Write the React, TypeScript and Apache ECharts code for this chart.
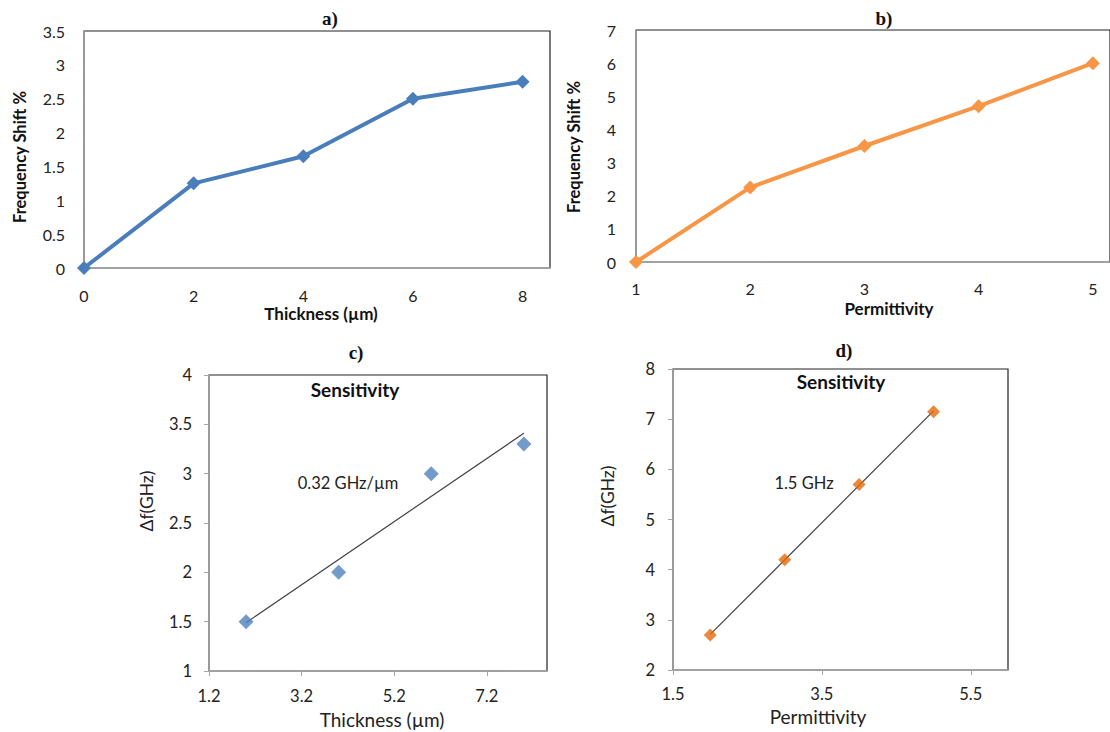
import React, { useEffect, useRef } from "react";
import * as echarts from "echarts";

// Panel a
const thicknessA = [0, 2, 4, 6, 8];
const shiftA = [0, 1.25, 1.65, 2.5, 2.75];
// Panel b
const permB = [1, 2, 3, 4, 5];
const shiftB = [0, 2.25, 3.5, 4.7, 6];
// Panel c
const thicknessC = [2, 4, 6, 8];
const dfC = [1.5, 2, 3, 3.3];
const trendCX = [2, 8];
const trendCY = [1.49, 3.41];
// Panel d
const permD = [2, 3, 4, 5];
const dfD = [2.7, 4.2, 5.7, 7.15];
const trendDX = [2, 5];
const trendDY = [2.71, 7.165];
// Tick labels
const xTicksA = [0, 2, 4, 6, 8];
const xTicksB = [1, 2, 3, 4, 5];
const xTicksC = [1.2, 3.2, 5.2, 7.2];
const xTicksD = [1.5, 3.5, 5.5];

const FONT = "Lato, 'Open Sans', sans-serif";
const SERIF = "'Liberation Serif', 'DejaVu Serif', serif";

const zip = (xs: number[], ys: number[]) => xs.map((x, i) => [x, ys[i]]);

export default function App() {
  const ref = useRef<HTMLDivElement>(null);
  useEffect(() => {
    if (!ref.current) return;
    const chart = echarts.init(ref.current, null, { renderer: "svg" });
    const gridBase = { show: true, borderColor: "#222", borderWidth: 1.2, backgroundColor: "#fff" };
    const axisLineGray = { show: true, lineStyle: { color: "#a6a6a6", width: 1.5 } };
    const lblAB = { color: "#222", fontSize: 16, fontFamily: FONT };
    const lblCD = { color: "#222", fontSize: 16.5, fontFamily: FONT };
    const t = (x: number, y: number, text: string, font: string, rot = 0, fill = "#111") => ({
      type: "text", x, y, rotation: rot, z: 100,
      style: { text, font, fill, align: "center", verticalAlign: "middle" },
    });
    const option: any = {
      animation: false,
      backgroundColor: "#fff",
      grid: [
        { ...gridBase, left: 84, top: 31, width: 466, height: 237 },
        { ...gridBase, left: 636, top: 30, width: 474, height: 232 },
        { ...gridBase, left: 209, top: 375, width: 338, height: 296 },
        { ...gridBase, left: 673, top: 369, width: 335, height: 301 },
      ],
      xAxis: [
        {
          gridIndex: 0, type: "value", min: 0, max: 8.5,
          axisLine: axisLineGray, splitLine: { show: false },
          axisTick: { show: false },
          axisLabel: { ...lblAB, margin: 19, customValues: xTicksA },
        },
        {
          gridIndex: 1, type: "value", min: 1, max: 5.15,
          axisLine: axisLineGray, splitLine: { show: false },
          axisTick: { show: false },
          axisLabel: { ...lblAB, margin: 18, customValues: xTicksB },
        },
        {
          gridIndex: 2, type: "value", min: 1.2, max: 8.5,
          axisLine: axisLineGray, splitLine: { show: false },
          axisTick: { show: true, length: 5, lineStyle: { color: "#a6a6a6" }, customValues: xTicksC },
          axisLabel: { ...lblCD, margin: 16, customValues: xTicksC },
        },
        {
          gridIndex: 3, type: "value", min: 1.5, max: 6,
          axisLine: axisLineGray, splitLine: { show: false },
          axisTick: { show: true, length: 5, lineStyle: { color: "#a6a6a6" }, customValues: xTicksD },
          axisLabel: { ...lblCD, margin: 15, customValues: xTicksD },
        },
      ],
      yAxis: [
        {
          gridIndex: 0, type: "value", min: 0, max: 3.5, interval: 0.5,
          axisLine: axisLineGray, splitLine: { show: false }, axisTick: { show: false },
          axisLabel: { ...lblAB, margin: 19 },
        },
        {
          gridIndex: 1, type: "value", min: 0, max: 7, interval: 1,
          axisLine: axisLineGray, splitLine: { show: false }, axisTick: { show: false },
          axisLabel: { ...lblAB, margin: 20 },
        },
        {
          gridIndex: 2, type: "value", min: 1, max: 4, interval: 0.5,
          axisLine: axisLineGray, splitLine: { show: false },
          axisTick: { show: true, length: 5, lineStyle: { color: "#a6a6a6" } },
          axisLabel: { ...lblCD, margin: 17 },
        },
        {
          gridIndex: 3, type: "value", min: 2, max: 8, interval: 1,
          axisLine: axisLineGray, splitLine: { show: false },
          axisTick: { show: true, length: 5, lineStyle: { color: "#a6a6a6" } },
          axisLabel: { ...lblCD, margin: 18 },
        },
      ],
      series: [
        {
          type: "line", xAxisIndex: 0, yAxisIndex: 0, data: zip(thicknessA, shiftA),
          lineStyle: { color: "#4A7EBB", width: 4 }, itemStyle: { color: "#4A7EBB" },
          symbol: "diamond", symbolSize: 14, showSymbol: true,
        },
        {
          type: "line", xAxisIndex: 1, yAxisIndex: 1, data: zip(permB, shiftB),
          lineStyle: { color: "#F79646", width: 4 }, itemStyle: { color: "#F79646" },
          symbol: "diamond", symbolSize: 14, showSymbol: true,
        },
        {
          type: "line", xAxisIndex: 2, yAxisIndex: 2, data: zip(trendCX, trendCY),
          lineStyle: { color: "#404040", width: 1.2 }, symbol: "none", z: 2,
        },
        {
          type: "scatter", xAxisIndex: 2, yAxisIndex: 2, data: zip(thicknessC, dfC),
          itemStyle: { color: "#4F81BD" }, symbol: "diamond", symbolSize: 15, z: 3,
        },
        {
          type: "line", xAxisIndex: 3, yAxisIndex: 3, data: zip(trendDX, trendDY),
          lineStyle: { color: "#404040", width: 1.2 }, symbol: "none", z: 2,
        },
        {
          type: "scatter", xAxisIndex: 3, yAxisIndex: 3, data: zip(permD, dfD),
          itemStyle: { color: "#E46C0A" }, symbol: "diamond", symbolSize: 13, z: 3,
        },
      ],
      graphic: [
        t(330, 18, "a)", `bold 19px ${SERIF}`),
        t(884, 18, "b)", `bold 19px ${SERIF}`),
        t(356, 352, "c)", `bold 19px ${SERIF}`),
        t(844, 350, "d)", `bold 19px ${SERIF}`),
        t(20, 157, "Frequency Shift %", `bold 16.5px ${FONT}`, Math.PI / 2),
        t(574, 147, "Frequency Shift %", `bold 16.5px ${FONT}`, Math.PI / 2),
        t(321, 313, "Thickness (µm)", `bold 17px ${FONT}`),
        t(889, 308, "Permittivity", `bold 17px ${FONT}`),
        t(146, 501, "Δf(GHz)", `17.5px ${FONT}`, Math.PI / 2, "#222"),
        t(607, 496, "Δf(GHz)", `17.5px ${FONT}`, Math.PI / 2, "#222"),
        t(382, 719, "Thickness (µm)", `19px ${FONT}`, 0, "#222"),
        t(818, 716, "Permittivity", `19px ${FONT}`, 0, "#222"),
        t(355, 389, "Sensitivity", `bold 19px ${FONT}`),
        t(841, 381, "Sensitivity", `bold 19px ${FONT}`),
        t(348, 483, "0.32 GHz/µm", `16.5px ${FONT}`, 0, "#222"),
        t(804, 483, "1.5 GHz", `16.5px ${FONT}`, 0, "#222"),
      ],
    };
    chart.setOption(option);
    return () => chart.dispose();
  }, []);
  return (
    <div
      ref={ref}
      style={{ position: "fixed", left: 0, top: 0, width: 1110, height: 732, background: "#fff" }}
    />
  );
}
